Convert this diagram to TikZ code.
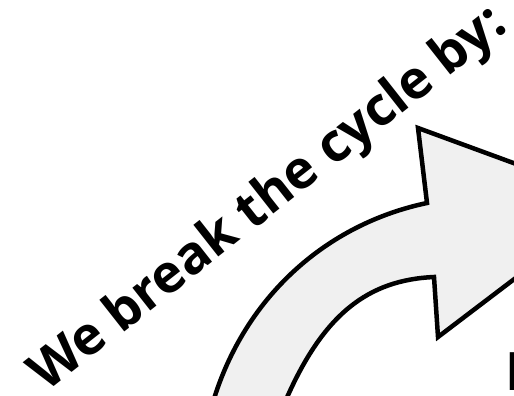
\documentclass[tikz,border=0pt]{standalone}
\usepackage{fontspec}
\setmainfont{Open Sans}
\begin{document}
\begin{tikzpicture}[x=1pt,y=-1pt,
  arrowshape/.style={draw=black, fill=black!6, line width=4.5pt, line join=miter, miter limit=10},
  headline/.style={font=\bfseries\fontsize{53}{60}\selectfont, inner sep=0pt, text=black}]
\useasboundingbox (0,0) rectangle (514,396);
\clip (0,0) rectangle (514,396);
% curved arrow
\coordinate (ob) at (213,402);
\coordinate (on) at (427,203);
\coordinate (hl) at (418,128);
\coordinate (tip) at (617,201);
\coordinate (hb) at (438,337);
\coordinate (in) at (434,277);
\coordinate (ib) at (285,402);
\path[arrowshape] (ob) .. controls (245,296) and (327,224) .. (on)
  -- (hl) -- (tip) -- (hb) -- (in)
  .. controls (368,280) and (323,314) .. (ib);
% heading text
\node[headline, anchor=base east, rotate=38.2] (title) at (509,29) {We break the cycle by:};
% partially visible letter at the right edge
\node[headline, anchor=base west] (cut) at (505,390) {I};
\end{tikzpicture}
\end{document}
